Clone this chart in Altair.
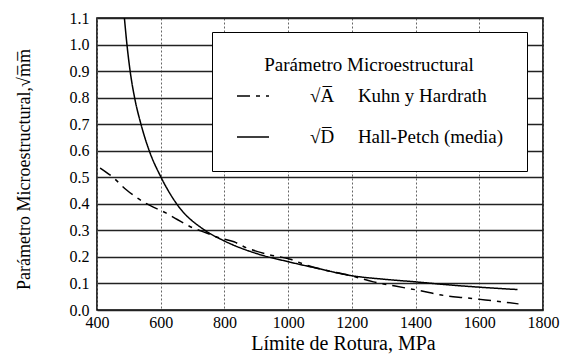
import altair as alt
import pandas as pd

# Hall-Petch (media) — solid curve
hp_sigma = [486, 494, 504, 518, 538, 564, 601, 650, 739, 800, 908, 1000, 1091, 1200, 1300, 1400, 1500, 1600, 1720]
hp_value = [1.10, 1.00, 0.90, 0.80, 0.70, 0.60, 0.50, 0.40, 0.30, 0.26, 0.21, 0.182, 0.157, 0.129, 0.116, 0.106, 0.095, 0.086, 0.077]

# Kuhn y Hardrath — dash-dot curve
kh_sigma = [410, 450, 490, 553, 616, 652, 700, 740, 783, 830, 868, 935, 1007, 1060, 1100, 1200, 1268, 1336, 1410, 1493, 1556, 1619, 1723]
kh_value = [0.535, 0.50, 0.455, 0.402, 0.366, 0.341, 0.31, 0.292, 0.272, 0.257, 0.235, 0.21, 0.191, 0.168, 0.155, 0.128, 0.106, 0.09, 0.074, 0.054, 0.046, 0.038, 0.023]

kh_label = "\u221aA\u0305\u2003 Kuhn y Hardrath"
hp_label = "\u221aD\u0305\u2003 Hall-Petch (media)"
series_order = [kh_label, hp_label]

x_ticks = [400, 600, 800, 1000, 1200, 1400, 1600, 1800]
y_ticks = [0.0, 0.1, 0.2, 0.3, 0.4, 0.5, 0.6, 0.7, 0.8, 0.9, 1.0, 1.1]

df = pd.DataFrame(
    {"sigma": kh_sigma, "value": kh_value, "serie": [kh_label] * len(kh_sigma)}
)
df = pd.concat(
    [df, pd.DataFrame({"sigma": hp_sigma, "value": hp_value, "serie": [hp_label] * len(hp_sigma)})],
    ignore_index=True,
)

FONT = "Liberation Serif"

chart = (
    alt.Chart(df)
    .mark_line(color="black", strokeWidth=1.5, interpolate="monotone")
    .encode(
        x=alt.X(
            "sigma:Q",
            scale=alt.Scale(domain=[400, 1800], nice=False, zero=False),
            axis=alt.Axis(
                values=x_ticks,
                format="d",
                title="Límite de Rotura, MPa",
                titleFont=FONT,
                titleFontSize=20,
                titleFontWeight="normal",
                titleColor="black",
                titleX=246,
                titleY=39,
                titleAlign="center",
                titleBaseline="alphabetic",
                labelFont=FONT,
                labelFontSize=16,
                labelColor="black",
                labelPadding=4,
                ticks=False,
                tickSize=0,
                domain=False,
                grid=True,
                gridColor="#666666",
                gridDash=[2, 2],
                gridWidth=1,
                labelFlush=False,
            ),
        ),
        y=alt.Y(
            "value:Q",
            scale=alt.Scale(domain=[0, 1.1], nice=False),
            axis=alt.Axis(
                values=y_ticks,
                format=".1f",
                title="Parámetro Microestructural,\u221am\u0305m\u0305",
                titleFont=FONT,
                titleFontSize=18,
                titleFontWeight="normal",
                titleColor="black",
                titleAngle=270,
                titleX=-68,
                titleY=151,
                titleAlign="center",
                titleBaseline="alphabetic",
                labelFont=FONT,
                labelFontSize=16,
                labelColor="black",
                labelPadding=8,
                ticks=False,
                tickSize=0,
                domain=False,
                grid=True,
                gridColor="#222222",
                gridWidth=1.3,
                labelFlush=False,
            ),
        ),
        strokeDash=alt.StrokeDash(
            "serie:N",
            scale=alt.Scale(domain=series_order, range=[[13, 6, 4, 6], [1, 0]]),
            legend=alt.Legend(
                title="Parámetro Microestructural",
                orient="none",
                legendX=115,
                legendY=14,
                direction="vertical",
                strokeColor="black",
                fillColor="white",
                padding=24,
                titleFont=FONT,
                titleFontSize=19,
                titleFontWeight="normal",
                titleColor="black",
                titleAnchor="middle",
                titlePadding=4,
                titleLimit=400,
                labelFont=FONT,
                labelFontSize=19,
                labelColor="black",
                labelOffset=40,
                symbolType="stroke",
                symbolSize=1024,
                symbolStrokeWidth=1.5,
                symbolStrokeColor="black",
                rowPadding=14,
                labelLimit=400,
            ),
        ),
    )
    .properties(
        width=446,
        height=292,
        autosize=alt.AutoSizeParams(type="none"),
        padding={"left": 89, "top": 10, "right": 20, "bottom": 45},
        background="white",
    )
    .configure_view(stroke="black", strokeWidth=1.6)
)

chart.save("out.html", embed_options={"renderer": "svg", "actions": False})
